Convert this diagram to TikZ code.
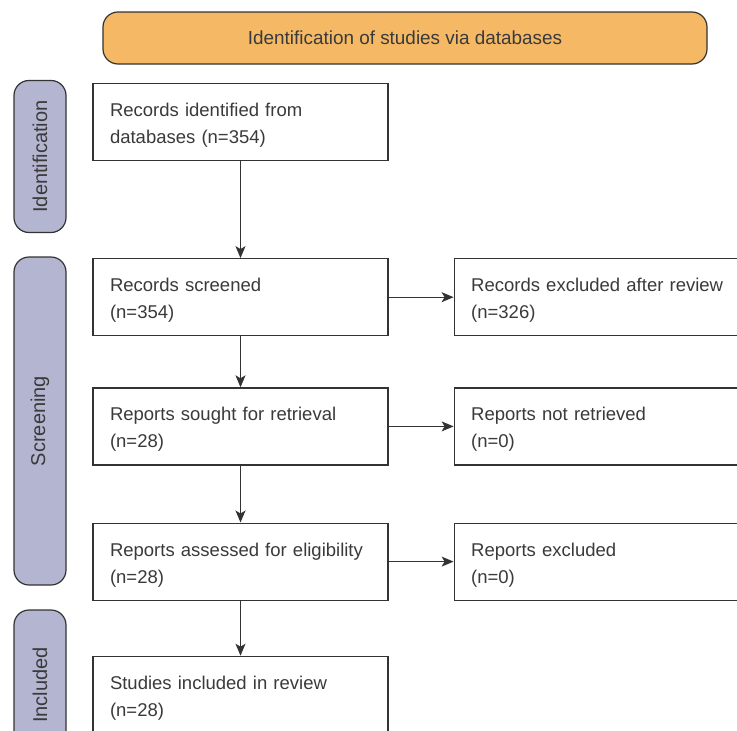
\documentclass[tikz,border=0pt]{standalone}
\usepackage{fontspec}
\setmainfont{Liberation Sans}
\usetikzlibrary{arrows.meta,positioning}
\definecolor{ink}{RGB}{51,51,51}
\definecolor{txt}{RGB}{58,58,58}
\definecolor{band}{RGB}{245,185,102}
\definecolor{phase}{RGB}{180,181,208}
\tikzset{
  box/.style={draw=ink,line width=1.2pt,fill=white,minimum width=295pt,minimum height=77pt,
    text width=261pt,inner xsep=17pt,align=left,text=txt,font=\fontsize{18.5}{27}\selectfont,
    execute at begin node={\rule{0pt}{20pt}}},
  sidebox/.style={box,minimum width=300pt,text width=266pt},
  phasebar/.style={draw=ink,line width=1.2pt,fill=phase,rounded corners=15pt,rotate=90,
    minimum height=52pt,text=txt,font=\fontsize{20}{24}\selectfont},
  banner/.style={draw=ink,line width=1.2pt,fill=band,rounded corners=15pt,minimum width=604pt,
    minimum height=52pt,text=txt,font=\fontsize{18.9}{22}\selectfont},
  arr/.style={-{Stealth[length=12pt,width=10pt,inset=3pt]},line width=1.2pt,draw=ink},
}
\begin{document}
\begin{tikzpicture}[x=1pt,y=-1pt]
  \useasboundingbox (0,0) rectangle (737,731);
  \clip (0,0) rectangle (737,731);
  \node[banner] (head) at (405,38) {Identification of studies via databases};
  \node[phasebar,minimum width=152pt] (pid) at (40,156.5) {Identification};
  \node[phasebar,minimum width=328pt] (pscr) at (40,421) {Screening};
  \node[phasebar,minimum width=150pt] (pinc) at (40,685) {Included};
  \node[box] (ident) at (240.5,122) {Records identified from\\databases (n=354)};
  \node[box,below=97pt of ident] (screened) {Records screened\\(n=354)};
  \node[box,below=51pt of screened] (sought) {Reports sought for retrieval\\(n=28)};
  \node[box,below=57pt of sought] (assessed) {Reports assessed for eligibility\\(n=28)};
  \node[box,below=55pt of assessed] (included) {Studies included in review\\(n=28)};
  \node[sidebox,anchor=west,right=65pt of screened] (excluded) {Records excluded after review\\(n=326)};
  \node[sidebox,anchor=west,right=65pt of sought] (notretr) {Reports not retrieved\\(n=0)};
  \node[sidebox,anchor=west,right=65pt of assessed] (repexcl) {Reports excluded\\(n=0)};
  \draw[arr] (ident) -- (screened);
  \draw[arr] (screened) -- (sought);
  \draw[arr] (sought) -- (assessed);
  \draw[arr] (assessed) -- (included);
  \draw[arr] (screened) -- (excluded);
  \draw[arr] (sought) -- (notretr);
  \draw[arr] (assessed) -- (repexcl);
\end{tikzpicture}
\end{document}
